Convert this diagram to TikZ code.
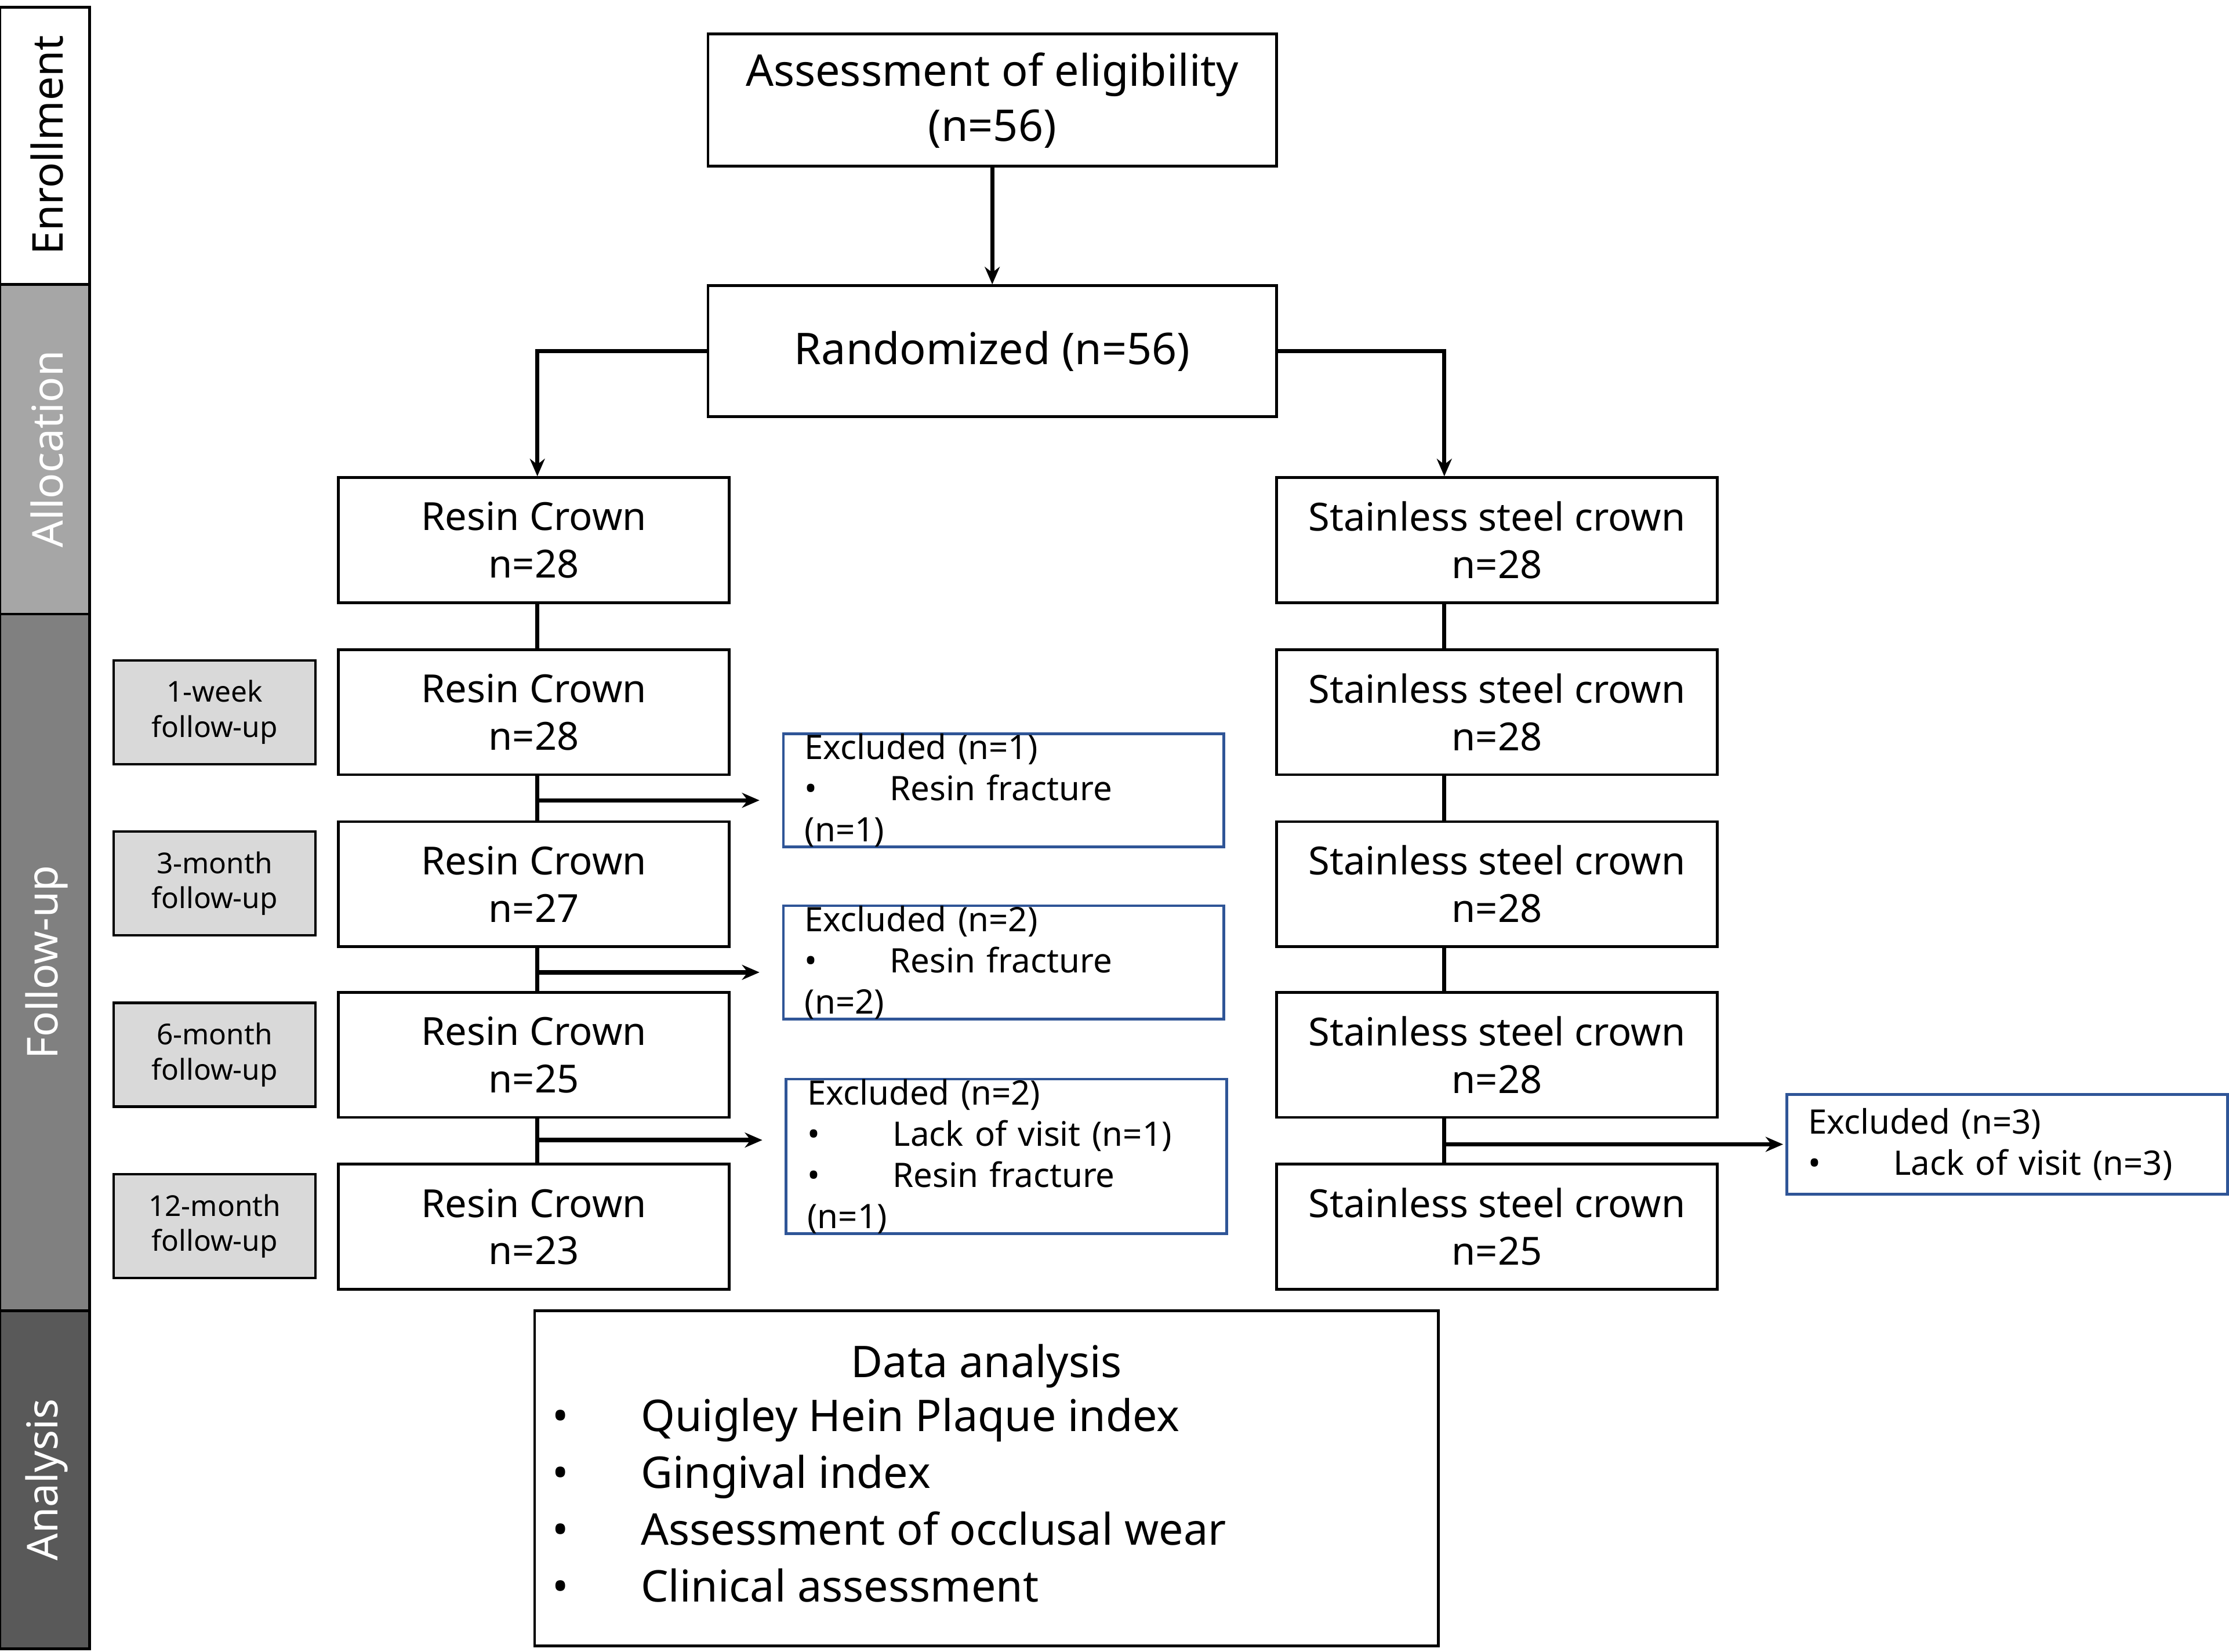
\documentclass[tikz,border=0pt]{standalone}
\usepackage{fontspec}
\setmainfont{Noto Sans}
\usetikzlibrary{arrows.meta}
\definecolor{exblue}{HTML}{2F5597}
\tikzset{
 px/.style={x=0.02cm,y=-0.02cm},
 box/.style={draw=black,line width=1.1pt,align=center,inner sep=0pt,font=\fontsize{15.5}{19}\selectfont},
 rbox/.style={box,minimum width=5.5cm,minimum height=1.76cm},
 sbox/.style={box,minimum width=6.2cm,minimum height=1.76cm},
 fubox/.style={draw=black,line width=1pt,fill=black!15,align=center,inner sep=0pt,minimum width=2.84cm,minimum height=1.46cm,font=\fontsize{11.5}{14}\selectfont},
 exbox/.style={draw=exblue,line width=1.1pt,align=left,inner sep=0pt,text width=5.6cm,minimum width=6.2cm,font=\fontsize{13.5}{16.5}\selectfont},
 conn/.style={line width=1.7pt},
 arr/.style={conn,-{Stealth[length=7pt,width=6pt]}},
 side/.style={rotate=90,font=\fontsize{17}{20}\selectfont},
}
\newcommand{\bul}{\makebox[1.2cm][l]{\textbullet}}
\begin{document}
\begin{tikzpicture}[px]
\useasboundingbox (0,0) rectangle (1568,1162);
% side bar
\fill[white] (0,5) rectangle (63,200);
\fill[black!35] (0,200) rectangle (63,432);
\fill[black!50] (0,432) rectangle (63,922);
\fill[black!65] (0,922) rectangle (63,1160);
\draw[line width=1.1pt] (0,5) rectangle (63,1160);
\draw[line width=1.1pt] (0,200)--(63,200) (0,432)--(63,432) (0,922)--(63,922);
\node[side] (enr) at (33,102) {Enrollment};
\node[side,white] (all) at (33,316) {Allocation};
\node[side,white] (fol) at (33,677) {Follow-up};
\node[side,white] (ana) at (33,1041) {Analysis};
% main
\node[box,minimum width=8cm,minimum height=1.86cm,font=\fontsize{17.5}{22}\selectfont] (elig) at (698,70.5) {Assessment of eligibility\\(n=56)};
\node[box,minimum width=8cm,minimum height=1.84cm,font=\fontsize{17.5}{22}\selectfont] (rand) at (698,247) {Randomized (n=56)};
\node[rbox] (r0) at (375.5,380) {Resin Crown\\n=28};
\node[rbox] (r1) at (375.5,501) {Resin Crown\\n=28};
\node[rbox] (r2) at (375.5,622) {Resin Crown\\n=27};
\node[rbox] (r3) at (375.5,742) {Resin Crown\\n=25};
\node[rbox] (r4) at (375.5,863) {Resin Crown\\n=23};
\node[sbox] (s0) at (1053,380) {Stainless steel crown\\n=28};
\node[sbox] (s1) at (1053,501) {Stainless steel crown\\n=28};
\node[sbox] (s2) at (1053,622) {Stainless steel crown\\n=28};
\node[sbox] (s3) at (1053,742) {Stainless steel crown\\n=28};
\node[sbox] (s4) at (1053,863) {Stainless steel crown\\n=25};
\node[fubox] (f1) at (151,501) {1-week\\follow-up};
\node[fubox] (f2) at (151,621.5) {3-month\\follow-up};
\node[fubox] (f3) at (151,742) {6-month\\follow-up};
\node[fubox] (f4) at (151,862.5) {12-month\\follow-up};
\node[exbox,minimum height=1.4cm] (e1) at (706,556) {Excluded (n=1)\\\bul Resin fracture (n=1)};
\node[exbox,minimum height=1.4cm] (e2) at (706,677) {Excluded (n=2)\\\bul Resin fracture (n=2)};
\node[exbox,minimum height=2.1cm] (e3) at (708,813.5) {Excluded (n=2)\\\bul Lack of visit (n=1)\\\bul Resin fracture (n=1)};
\node[exbox,minimum height=1.4cm] (e4) at (1412,805) {Excluded (n=3)\\\bul Lack of visit (n=3)};
\node[draw=black,line width=1.1pt,minimum width=12.72cm,minimum height=4.72cm,inner sep=0pt] (da) at (694,1040) {};
\node[font=\fontsize{17.5}{22}\selectfont\bfseries] (dat) at (694,961) {Data analysis};
\node[anchor=north west,align=left,font=\fontsize{17.5}{22.8}\selectfont,inner sep=0pt] (dal) at (388,983)
 {\makebox[1.25cm][l]{\textbullet}Quigley Hein Plaque index\\\makebox[1.25cm][l]{\textbullet}Gingival index\\\makebox[1.25cm][l]{\textbullet}Assessment of occlusal wear\\\makebox[1.25cm][l]{\textbullet}Clinical assessment};
% connectors
\draw[arr] (elig) -- (rand);
\draw[arr] (rand.west) -| (r0.north -| 378,0);
\draw[arr] (rand.east) -| (s0.north -| 1016,0);
\foreach \a/\b in {r0/r1,r1/r2,r2/r3,r3/r4}{\draw[conn] (\a.south -| 378,0) -- (\b.north -| 378,0);}
\foreach \a/\b in {s0/s1,s1/s2,s2/s3,s3/s4}{\draw[conn] (\a.south -| 1016,0) -- (\b.north -| 1016,0);}
\coordinate (c1) at (378,563);
\coordinate (c2) at (378,684);
\coordinate (c3) at (378,802);
\coordinate (c4) at (1016,805);
\draw[arr,shorten >=9pt] (c1) -- (c1 -| e1.west);
\draw[arr,shorten >=9pt] (c2) -- (c2 -| e2.west);
\draw[arr,shorten >=9pt] (c3) -- (c3 -| e3.west);
\draw[arr,shorten >=1pt] (c4) -- (c4 -| e4.west);
\end{tikzpicture}
\end{document}
